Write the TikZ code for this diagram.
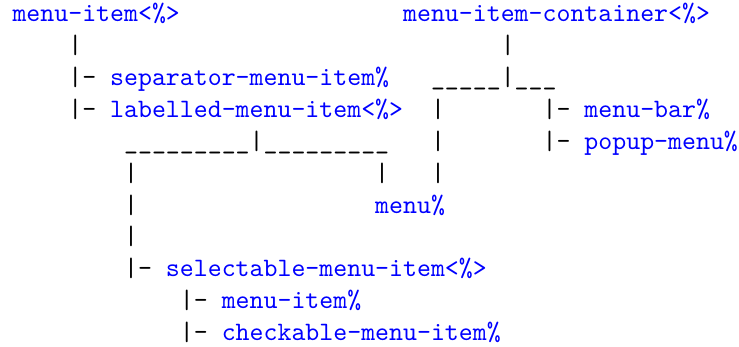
\documentclass[tikz,border=0pt]{standalone}
\usepackage{tikz}

\begin{document}
\begin{tikzpicture}[x=5.25pt, y=-12pt,
	cls/.style={anchor=base west, inner sep=0pt, font=\ttfamily, text=blue},
	bar/.style={anchor=base west, inner sep=0pt, font=\ttfamily, text=black}]
	\useasboundingbox (-4.52pt,8.17pt) rectangle (273.6pt,-122.4pt);

	% Classes {top row}
	\node [cls] (item)      at (0,0)  {menu-item<\%>};
	\node [cls] (container) at (28,0) {menu-item-container<\%>};

	% Branch under menu-item
	\node [bar] (b1)  at (4,1)  {|};
	\node [bar] (b2)  at (4,2)  {|-};
	\node [cls] (sep) at (7,2)  {separator-menu-item\%};
	\node [bar] (b3)  at (4,3)  {|-};
	\node [cls] (lab) at (7,3)  {labelled-menu-item<\%>};

	% Branch under menu-item-container
	\node [bar] (c1)  at (35,1) {|};
	\node [bar] (c2)  at (30,2) {\_\_\_\_\_|\_\_\_};
	\node [bar] (c3)  at (30,3) {|};
	\node [bar] (c4)  at (38,3) {|-};
	\node [cls] (mbar) at (41,3) {menu-bar\%};
	\node [bar] (c5)  at (30,4) {|};
	\node [bar] (c6)  at (38,4) {|-};
	\node [cls] (pop) at (41,4) {popup-menu\%};
	\node [bar] (c7)  at (30,5) {|};

	% Branch under labelled-menu-item
	\node [bar] (l1)  at (8,4)  {\_\_\_\_\_\_\_\_\_|\_\_\_\_\_\_\_\_\_};
	\node [bar] (l2)  at (8,5)  {|};
	\node [bar] (l3)  at (26,5) {|};
	\node [cls] (menu) at (26,6) {menu\%};
	\node [bar] (l4)  at (8,6)  {|};
	\node [bar] (l5)  at (8,7)  {|};
	\node [bar] (l6)  at (8,8)  {|-};
	\node [cls] (sel) at (11,8) {selectable-menu-item<\%>};

	% Branch under selectable-menu-item
	\node [bar] (s1)  at (12,9)  {|-};
	\node [cls] (mitem) at (15,9) {menu-item\%};
	\node [bar] (s2)  at (12,10) {|-};
	\node [cls] (check) at (15,10) {checkable-menu-item\%};
\end{tikzpicture}
\end{document}
